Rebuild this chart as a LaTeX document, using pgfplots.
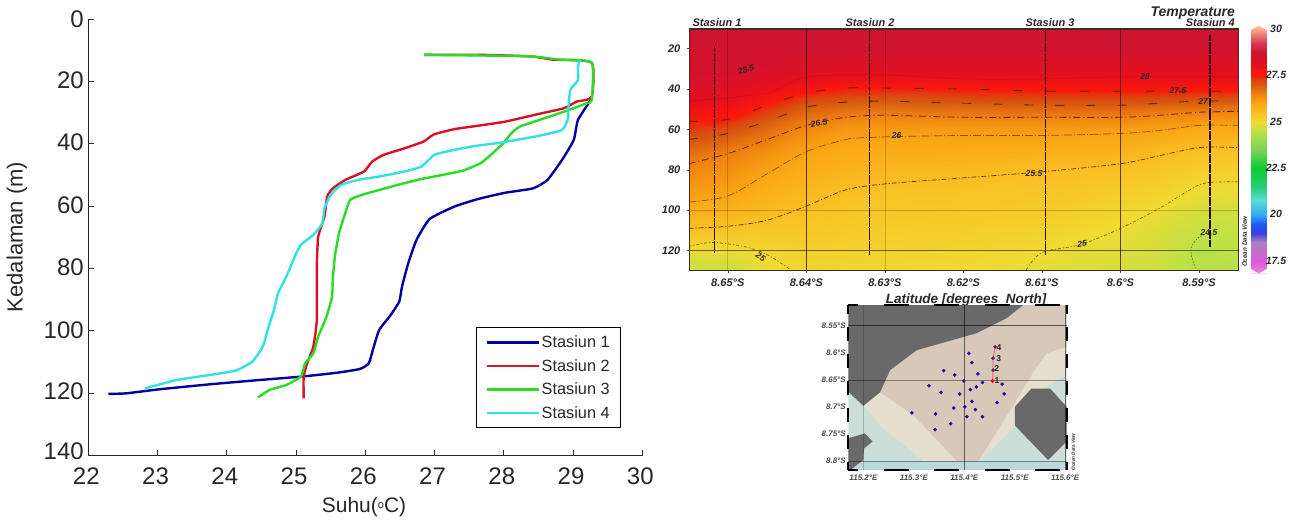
\documentclass[border=0pt]{standalone}
\usepackage{pgfplots}
\pgfplotsset{compat=1.18}
\usepackage{fontspec}
\setmainfont{Liberation Sans}
\definecolor{stOne}{RGB}{0,0,160}
\definecolor{stTwo}{RGB}{215,20,35}
\definecolor{stThree}{RGB}{40,220,40}
\definecolor{stFour}{RGB}{50,225,225}
\definecolor{txt}{RGB}{40,40,40}
\definecolor{cont}{RGB}{90,40,20}
\definecolor{land}{RGB}{105,105,105}
\definecolor{shal}{RGB}{216,200,186}
\definecolor{mid}{RGB}{230,222,206}
\definecolor{deep}{RGB}{203,222,215}
\definecolor{gridc}{RGB}{60,30,30}
\definecolor{framec}{RGB}{70,40,40}
\definecolor{tealb}{RGB}{185,217,218}
\definecolor{redl}{RGB}{235,90,110}
\definecolor{dotb}{RGB}{40,10,150}
\definecolor{dotm}{RGB}{110,20,110}
\definecolor{stn}{RGB}{40,10,15}
\pgfplotsset{
  colormap={odv}{
    rgb255(168pt)=(235,130,230);
    rgb255(175pt)=(220,90,215);
    rgb255(185pt)=(170,130,190);
    rgb255(190pt)=(60,60,230);
    rgb255(195pt)=(30,90,240);
    rgb255(200pt)=(50,170,240);
    rgb255(208pt)=(90,220,210);
    rgb255(215pt)=(40,205,120);
    rgb255(225pt)=(10,205,50);
    rgb255(235pt)=(120,210,90);
    rgb255(245pt)=(190,225,70);
    rgb255(250pt)=(240,218,50);
    rgb255(255pt)=(250,190,35);
    rgb255(260pt)=(250,165,20);
    rgb255(265pt)=(240,130,15);
    rgb255(270pt)=(215,90,15);
    rgb255(273pt)=(225,60,15);
    rgb255(275pt)=(250,25,10);
    rgb255(280pt)=(230,15,30);
    rgb255(287pt)=(205,20,50);
    rgb255(292pt)=(215,50,80);
    rgb255(297pt)=(240,130,120);
    rgb255(302pt)=(255,200,150)
  }
}
\begin{document}
\begin{tikzpicture}[x=1pt,y=1pt]
\useasboundingbox (0,0) rectangle (1296,523);

%% ---------- left profile chart ----------
\begin{axis}[
  at={(88.3pt,67.3pt)},anchor=south west,scale only axis,
  width=554pt,height=436.7pt,
  xmin=22,xmax=30,ymin=0,ymax=140,y dir=reverse,
  axis lines=left,axis line style={-,line width=1.1pt,color=black!85},
  tick style={line width=1pt,color=black!85},
  tick align=inside,major tick length=6pt,
  xtick={22,23,...,30},xticklabels={22,23,24,25,26,27,28,29,30},
  ytick={0,20,...,140},
  yticklabels={\raisebox{-1pt}{0},\raisebox{2.4pt}{20},\raisebox{2.8pt}{40},\raisebox{3pt}{60},\raisebox{3pt}{80},\raisebox{2pt}{100},\raisebox{3.6pt}{120},\raisebox{9pt}{140}},
  ticklabel style={font=\fontsize{24}{24}\selectfont,color=txt},
  xticklabel style={xshift=-2pt,yshift=-9pt},
  yticklabel style={xshift=-1pt},
  clip=false,
  legend style={at={(0.961,0.0627)},anchor=south east,draw=black,line width=1pt,
    font=\fontsize{16.3}{16.3}\selectfont,text=txt,row sep=6.3pt,inner xsep=8.5pt,inner ysep=6pt,
    cells={anchor=west}},
  legend cell align=left,
  legend image code/.code={\draw[#1] (0pt,0pt) -- (52pt,0pt);},
]
\addplot[stOne,line width=2.4pt,smooth,tension=.3] coordinates {
(29.27,26) (29.24,26.5) (29.07,32.4) (29.01,38.8) (28.84,45.2) (28.63,51.6) (28.42,54.3) (28.02,55.7) (27.63,57.7) (27.29,60.1) (26.93,64.1) (26.74,70.8) (26.62,78.3) (26.53,85.8) (26.49,90.6) (26.35,95.4) (26.2,99.7) (26.11,106) (26.05,110.4) (25.92,112.2) (25.59,113.4) (25.1,114.6) (24.49,115.7) (23.76,117.1) (23.03,118.7) (22.55,120) (22.29,120.2)};
\addlegendentry{Stasiun 1}
\addplot[stTwo,line width=2.4pt,smooth,tension=.3] coordinates {
(26.85,11.5) (27.7,11.5) (28.4,12) (28.7,13) (29.27,14) (29.27,25) (29.05,26.5) (28.87,28.6) (28.51,30.4) (28.02,32.9) (27.6,34.3) (27.29,35.3) (26.99,37) (26.84,39.3) (26.56,41.5) (26.26,43.6) (26.1,45.7) (25.98,48.9) (25.71,51.6) (25.53,54.3) (25.45,56.9) (25.41,63.4) (25.32,69.8) (25.3,79.4) (25.3,96.5) (25.25,105) (25.16,110.4) (25.11,114.6) (25.11,121.6)};
\addlegendentry{Stasiun 2}
\addplot[stThree,line width=2.4pt,smooth,tension=.3] coordinates {
(26.85,11.5) (27.7,11.7) (28.4,12) (28.8,13) (29.27,14) (29.27,26) (29.2,27) (28.87,29.7) (28.51,32.4) (28.23,34.5) (28.11,36.6) (27.99,39.9) (27.81,43.6) (27.66,46.3) (27.41,48.6) (27.11,50) (26.81,51.3) (26.5,53) (26.2,54.8) (25.95,56.4) (25.78,58) (25.71,62.3) (25.62,68.7) (25.56,76.2) (25.53,83.7) (25.52,89) (25.44,95.4) (25.32,101.8) (25.25,107.2) (25.13,110.4) (25.07,114.6) (24.86,117.3) (24.62,118.9) (24.45,121.3)};
\addlegendentry{Stasiun 3}
\addplot[stFour,line width=2.4pt,smooth,tension=.3] coordinates {
(29.1,13.1) (29.07,15.3) (29.07,19.6) (28.96,22.8) (28.93,29.2) (28.93,31.8) (28.84,35.6) (28.45,37.7) (27.96,39.6) (27.53,40.9) (27.17,42.5) (26.99,43.6) (26.81,47.3) (26.56,48.9) (26.2,50.5) (25.89,51.6) (25.65,53.2) (25.5,56.4) (25.41,60.7) (25.38,65.5) (25.25,69.2) (25.07,72.4) (24.98,76.2) (24.86,82.6) (24.74,87.9) (24.68,93.3) (24.59,99.7) (24.52,105) (24.37,109.8) (24.13,112.7) (23.76,114.1) (23.28,115.7) (22.82,118.4)};
\addlegendentry{Stasiun 4}
\end{axis}
\node[font=\fontsize{22}{22}\selectfont,text=txt,rotate=90] at (17,286) {Kedalaman (m)};
\node[font=\fontsize{21}{21}\selectfont,text=txt] at (364,16) {Suhu(\raisebox{4pt}{\fontsize{11}{11}\selectfont o}C)};

%% ---------- section ----------
\begin{axis}[
  at={(689.3pt,252.3pt)},anchor=south west,scale only axis,
  width=549pt,height=241.7pt,
  xmin=8.585,xmax=8.6549,ymin=10.25,ymax=130,x dir=reverse,y dir=reverse,
  colormap name=odv,point meta min=16.8,point meta max=30.2,
  axis line style={line width=1.2pt,color=framec},
  tick align=outside,major tick length=2.5pt,tick style={color=black!70,line width=.5pt},
  xtick={8.65,8.64,8.63,8.62,8.61,8.6,8.59},
  xticklabels={8.65°S,8.64°S,8.63°S,8.62°S,8.61°S,8.6°S,8.59°S},
  ytick={20,40,...,120},yticklabels={20,40,60,80,100,120},
  xtick pos=bottom,ytick pos=left,
  ticklabel style={font=\bfseries\itshape\fontsize{11}{11}\selectfont,color=txt},
  xticklabel style={yshift=-2pt},
  yticklabel style={xshift=-3pt},
  axis on top,
]
\addplot[surf,shader=interp,mesh/rows=16,mesh/cols=12,mesh/ordering=y varies,point meta=explicit]
 table[row sep=\\,x=a,y=d,meta=t] {
a d t\\
8.655 10 28.7\\ 8.655 20 28.6\\ 8.655 30 28.5\\ 8.655 36 28.4\\ 8.655 40 28.3\\ 8.655 45 28.1\\ 8.655 50 27.8\\ 8.655 55 27.55\\ 8.655 60 27.3\\ 8.655 70 26.8\\ 8.655 80 26.4\\ 8.655 90 26.15\\ 8.655 100 25.85\\ 8.655 110 25.45\\ 8.655 120 24.95\\ 8.655 130 24.55\\
8.65 10 28.7\\ 8.65 20 28.6\\ 8.65 30 28.5\\ 8.65 36 28.4\\ 8.65 40 28.2\\ 8.65 45 28\\ 8.65 50 27.75\\ 8.65 55 27.5\\ 8.65 60 27.15\\ 8.65 70 26.6\\ 8.65 80 26.3\\ 8.65 90 26.05\\ 8.65 100 25.75\\ 8.65 110 25.4\\ 8.65 120 24.95\\ 8.65 130 24.6\\
8.645 10 28.7\\ 8.645 20 28.6\\ 8.645 30 28.4\\ 8.645 36 28.1\\ 8.645 40 27.9\\ 8.645 45 27.65\\ 8.645 50 27.35\\ 8.645 55 27.05\\ 8.645 60 26.8\\ 8.645 70 26.35\\ 8.645 80 26.05\\ 8.645 90 25.8\\ 8.645 100 25.6\\ 8.645 110 25.35\\ 8.645 120 25.1\\ 8.645 130 24.95\\
8.64 10 28.7\\ 8.64 20 28.6\\ 8.64 30 28.3\\ 8.64 36 27.95\\ 8.64 40 27.65\\ 8.64 45 27.25\\ 8.64 50 26.9\\ 8.64 55 26.65\\ 8.64 60 26.4\\ 8.64 70 26.05\\ 8.64 80 25.85\\ 8.64 90 25.65\\ 8.64 100 25.47\\ 8.64 110 25.35\\ 8.64 120 25.2\\ 8.64 130 25.1\\
8.635 10 28.7\\ 8.635 20 28.6\\ 8.635 30 28.2\\ 8.635 36 27.8\\ 8.635 40 27.45\\ 8.635 45 27.1\\ 8.635 50 26.75\\ 8.635 55 26.45\\ 8.635 60 26.2\\ 8.635 70 25.9\\ 8.635 80 25.7\\ 8.635 90 25.5\\ 8.635 100 25.38\\ 8.635 110 25.28\\ 8.635 120 25.18\\ 8.635 130 25.08\\
8.63 10 28.7\\ 8.63 20 28.6\\ 8.63 30 28.2\\ 8.63 36 27.8\\ 8.63 40 27.45\\ 8.63 45 27.05\\ 8.63 50 26.7\\ 8.63 55 26.4\\ 8.63 60 26.15\\ 8.63 70 25.85\\ 8.63 80 25.65\\ 8.63 90 25.45\\ 8.63 100 25.35\\ 8.63 110 25.25\\ 8.63 120 25.15\\ 8.63 130 25.08\\
8.62 10 28.7\\ 8.62 20 28.6\\ 8.62 30 28.2\\ 8.62 36 27.8\\ 8.62 40 27.5\\ 8.62 45 27.15\\ 8.62 50 26.75\\ 8.62 55 26.45\\ 8.62 60 26.15\\ 8.62 70 25.85\\ 8.62 80 25.6\\ 8.62 90 25.42\\ 8.62 100 25.32\\ 8.62 110 25.22\\ 8.62 120 25.12\\ 8.62 130 25.03\\
8.61 10 28.7\\ 8.61 20 28.55\\ 8.61 30 28.15\\ 8.61 36 27.85\\ 8.61 40 27.55\\ 8.61 45 27.2\\ 8.61 50 26.8\\ 8.61 55 26.45\\ 8.61 60 26.15\\ 8.61 70 25.8\\ 8.61 80 25.52\\ 8.61 90 25.4\\ 8.61 100 25.28\\ 8.61 110 25.15\\ 8.61 120 25\\ 8.61 130 24.85\\
8.6 10 28.7\\ 8.6 20 28.55\\ 8.6 30 28.15\\ 8.6 36 27.85\\ 8.6 40 27.55\\ 8.6 45 27.2\\ 8.6 50 26.8\\ 8.6 55 26.42\\ 8.6 60 26.1\\ 8.6 70 25.75\\ 8.6 80 25.45\\ 8.6 90 25.25\\ 8.6 100 25.1\\ 8.6 110 24.97\\ 8.6 120 24.85\\ 8.6 130 24.75\\
8.595 10 28.7\\ 8.595 20 28.55\\ 8.595 30 28.15\\ 8.595 36 27.85\\ 8.595 40 27.55\\ 8.595 45 27.15\\ 8.595 50 26.7\\ 8.595 55 26.35\\ 8.595 60 26.05\\ 8.595 70 25.6\\ 8.595 80 25.35\\ 8.595 90 25.15\\ 8.595 100 24.97\\ 8.595 110 24.8\\ 8.595 120 24.7\\ 8.595 130 24.6\\
8.59 10 28.7\\ 8.59 20 28.55\\ 8.59 30 28.15\\ 8.59 36 27.85\\ 8.59 40 27.55\\ 8.59 45 27.1\\ 8.59 50 26.65\\ 8.59 55 26.25\\ 8.59 60 25.92\\ 8.59 70 25.47\\ 8.59 80 25.2\\ 8.59 90 24.97\\ 8.59 100 24.75\\ 8.59 110 24.55\\ 8.59 120 24.45\\ 8.59 130 24.4\\
8.585 10 28.7\\ 8.585 20 28.55\\ 8.585 30 28.15\\ 8.585 36 27.85\\ 8.585 40 27.55\\ 8.585 45 27.1\\ 8.585 50 26.62\\ 8.585 55 26.22\\ 8.585 60 25.9\\ 8.585 70 25.45\\ 8.585 80 25.18\\ 8.585 90 24.95\\ 8.585 100 24.72\\ 8.585 110 24.58\\ 8.585 120 24.5\\ 8.585 130 24.45\\
};
% grid
\addplot[black,opacity=.18,line width=.6pt] coordinates {(8.65,10.25) (8.65,130)};
\addplot[black,opacity=.18,line width=.6pt] coordinates {(8.63,10.25) (8.63,130)};
\addplot[black,opacity=.22,line width=.7pt] coordinates {(8.6549,100) (8.585,100)};
\addplot[gridc,opacity=.85,line width=.9pt] coordinates {(8.64,10.25) (8.64,130)};
\addplot[gridc,opacity=.85,line width=.9pt] coordinates {(8.6,10.25) (8.6,130)};
\addplot[black,opacity=.55,line width=1pt] coordinates {(8.6549,120) (8.585,120)};
% contours
\addplot[cont,opacity=.3,line width=.5pt,smooth] coordinates {(8.655,46) (8.645,42) (8.64,34) (8.63,33) (8.62,35) (8.61,35) (8.6,34) (8.59,34) (8.585,34)};
\addplot[cont,line width=.9pt,dash pattern=on 9pt off 24pt,smooth] coordinates {(8.655,56) (8.65,55) (8.645,48) (8.64,42) (8.635,39.5) (8.63,39.5) (8.62,40) (8.61,41) (8.6,41) (8.59,41) (8.585,41)};
\addplot[cont,line width=.9pt,dash pattern=on 9pt off 22pt,smooth] coordinates {(8.655,65) (8.65,62) (8.645,56) (8.64,49) (8.635,46.5) (8.63,46) (8.62,47) (8.61,48) (8.6,48) (8.595,47) (8.59,46) (8.585,46)};
\addplot[cont,line width=.8pt,dash pattern=on 7pt off 3pt on 1pt off 3pt,smooth] coordinates {(8.655,77) (8.65,72) (8.645,65) (8.64,58) (8.635,54) (8.63,53) (8.62,54) (8.61,54) (8.6,54) (8.595,53) (8.59,51.5) (8.585,51)};
\addplot[cont,opacity=.7,line width=.7pt,dash pattern=on 8pt off 2pt on 1pt off 2pt,smooth] coordinates {(8.655,96) (8.65,93) (8.645,82) (8.64,71) (8.635,65) (8.632,64) (8.628,63.5) (8.62,63) (8.61,63) (8.6,62) (8.595,60.5) (8.59,58) (8.585,58)};
\addplot[cont,line width=.7pt,dash pattern=on 5pt off 2pt on 1pt off 2pt,smooth] coordinates {(8.655,109) (8.65,108) (8.645,105) (8.64,98) (8.635,90) (8.63,87) (8.62,84) (8.61,81) (8.6,77) (8.595,73) (8.59,69) (8.585,69)};
\addplot[cont,opacity=.8,line width=.6pt,dash pattern=on 3pt off 2pt on 1pt off 2pt,smooth] coordinates {(8.655,118) (8.652,116) (8.648,118) (8.645,122) (8.642,129.5)};
\addplot[cont,opacity=.8,line width=.6pt,dash pattern=on 3pt off 2pt on 1pt off 2pt,smooth] coordinates {(8.612,129.5) (8.61,121) (8.605,117) (8.6,109) (8.595,99) (8.59,87.5) (8.587,86) (8.585,86)};
\addplot[cont,opacity=.8,line width=.6pt,dash pattern=on 1.5pt off 1.5pt,smooth] coordinates {(8.5886,111) (8.5901,113.7) (8.591,118.6) (8.5909,123.6) (8.5904,129.5)};
% stations
\addplot[stn,line width=1.15pt,dash pattern=on 3pt off .3pt] coordinates {(8.6517,18.7) (8.6517,121)};
\addplot[stn,line width=1.15pt,dash pattern=on 3pt off .3pt] coordinates {(8.632,10.5) (8.632,122)};
\addplot[stn,line width=1.15pt,dash pattern=on 3pt off .3pt] coordinates {(8.6096,10.5) (8.6096,122)};
\addplot[stn,line width=1.15pt,dash pattern=on 3pt off .3pt] coordinates {(8.5886,13.2) (8.5886,118)};
\end{axis}

%% section texts (y from the bottom of the picture)
\tikzset{lab/.style={font=\bfseries\itshape\fontsize{#1}{#1}\selectfont,text=txt,inner sep=0pt}}
\node[lab=11] at (717,500) {Stasiun 1};
\node[lab=11] at (870,500) {Stasiun 2};
\node[lab=11] at (1050,500) {Stasiun 3};
\node[lab=11,anchor=east] at (1235,500) {Stasiun 4};
\node[lab=14,anchor=east] at (1235,510) {Temperature};
\node[lab=13.5] at (966,223) {Latitude [degrees\_North]};
\node[lab=8.5,rotate=15] at (746,453.7) {28.5};
\node[lab=8.5] at (1145,446.3) {28};
\node[lab=8.5] at (1178,432.3) {27.5};
\node[lab=8.5] at (1203,421.3) {27};
\node[lab=8.5,rotate=10] at (819,400) {26.5};
\node[lab=8.5] at (896.7,387) {26};
\node[lab=8.5] at (1034,349.3) {25.5};
\node[lab=8.5,rotate=5] at (1082,279.3) {25};
\node[lab=8.5] at (1209,290) {24.5};
\node[lab=8.5,rotate=-35] at (760.7,266.3) {25};

%% ---------- colour bar ----------
\begin{axis}[
  at={(1250.7pt,250pt)},anchor=south west,scale only axis,
  width=16pt,height=247pt,hide axis,
  xmin=0,xmax=1,ymin=16.85,ymax=30.15,
  colormap name=odv,point meta min=16.8,point meta max=30.2,
]
\addplot[surf,shader=interp,mesh/rows=24,mesh/cols=2,point meta=explicit]
 table[row sep=\\,x=a,y=v,meta=v] {
a v\\
0 16.85\\ 1 16.85\\ 0 17.5\\ 1 17.5\\ 0 18.5\\ 1 18.5\\ 0 19\\ 1 19\\ 0 19.5\\ 1 19.5\\ 0 20\\ 1 20\\ 0 20.8\\ 1 20.8\\ 0 21.5\\ 1 21.5\\ 0 22.5\\ 1 22.5\\ 0 23.5\\ 1 23.5\\ 0 24.5\\ 1 24.5\\ 0 25\\ 1 25\\ 0 25.5\\ 1 25.5\\ 0 26\\ 1 26\\ 0 26.5\\ 1 26.5\\ 0 27\\ 1 27\\ 0 27.3\\ 1 27.3\\ 0 27.5\\ 1 27.5\\ 0 28\\ 1 28\\ 0 28.7\\ 1 28.7\\ 0 29.2\\ 1 29.2\\ 0 29.7\\ 1 29.7\\ 0 30\\ 1 30\\ 0 30.15\\ 1 30.15\\
};
\addplot[black!60!olive,line width=.8pt,clip=false] coordinates {(-0.12,25) (-0.02,25)};
\addplot[black!60!olive,line width=.8pt,clip=false] coordinates {(1.02,25) (1.12,25)};
\end{axis}
\fill[white] (1250,497.5) -- (1250.7,493) -- (1258.7,497.5) -- cycle;
\fill[white] (1267.5,497.5) -- (1266.7,493) -- (1258.7,497.5) -- cycle;
\fill[white] (1250,249.5) -- (1250.7,254) -- (1258.7,249.5) -- cycle;
\fill[white] (1267.5,249.5) -- (1266.7,254) -- (1258.7,249.5) -- cycle;
\foreach \t/\y in {30/494.3,27.5/448,25/401.3,22.5/355,20/309,17.5/262} {
  \node[lab=10.5] at (1276,\y) {\t};
}
\node[lab=6.3,rotate=90] at (1244.7,281.3) {Ocean Data View};

%% ---------- map ----------
\begin{axis}[
  at={(848.3pt,53pt)},anchor=south west,scale only axis,
  width=218.4pt,height=165pt,
  xmin=115.17,xmax=115.603,ymin=8.5117,ymax=8.8166,y dir=reverse,
  axis line style={draw=none},
  tick style={draw=none},
  xtick={115.2,115.3,115.4,115.5,115.6},
  xticklabels={115.2°E,115.3°E,115.4°E,115.5°E,115.6°E},
  ytick={8.55,8.6,8.65,8.7,8.75,8.8},
  yticklabels={8.55°S,8.6°S,8.65°S,8.7°S,8.75°S,8.8°S},
  ticklabel style={font=\bfseries\itshape\fontsize{8}{8}\selectfont,color=black!70},
  xticklabel style={yshift=-1pt},
  yticklabel style={xshift=1pt},
  clip=true,
]
\addplot[fill=deep,draw=none] coordinates {(115.17,8.5117) (115.603,8.5117) (115.603,8.8166) (115.17,8.8166)} --cycle;
\addplot[fill=tealb,draw=none] coordinates {(115.2,8.8) (115.603,8.8) (115.603,8.8166) (115.17,8.8166)} --cycle;
\addplot[fill=mid,draw=none] coordinates {(115.2,8.698) (115.233,8.673) (115.299,8.715) (115.385,8.8) (115.319,8.8) (115.24,8.74)} --cycle;
\addplot[fill=mid,draw=none] coordinates {(115.563,8.601) (115.603,8.589) (115.603,8.641) (115.537,8.678) (115.497,8.74) (115.431,8.8) (115.428,8.8) (115.497,8.697) (115.537,8.635)} --cycle;
\addplot[fill=shal,draw=none] coordinates {(115.517,8.5117) (115.603,8.5117) (115.603,8.589) (115.563,8.601) (115.537,8.635) (115.497,8.697) (115.428,8.8) (115.385,8.8) (115.299,8.715) (115.233,8.673) (115.253,8.632) (115.306,8.595) (115.424,8.564) (115.484,8.536)} --cycle;
\addplot[fill=land,draw=none] coordinates {(115.17,8.5117) (115.517,8.5117) (115.484,8.536) (115.424,8.564) (115.306,8.595) (115.253,8.632) (115.233,8.673) (115.2,8.698) (115.17,8.672)} --cycle;
\addplot[fill=land,draw=none] coordinates {(115.5,8.7) (115.533,8.666) (115.57,8.666) (115.603,8.7) (115.603,8.764) (115.566,8.798) (115.5,8.734)} --cycle;
\addplot[fill=land,draw=none] coordinates {(115.17,8.758) (115.203,8.749) (115.218,8.764) (115.201,8.777) (115.2,8.798) (115.174,8.8166) (115.17,8.8166)} --cycle;
% grid
\addplot[black,opacity=.2,line width=.5pt] coordinates {(115.2,8.5117) (115.2,8.8166)};
\addplot[black,opacity=.55,line width=.7pt] coordinates {(115.4,8.5117) (115.4,8.8166)};
\addplot[black,opacity=.55,line width=.7pt] coordinates {(115.6,8.5117) (115.6,8.8166)};
\addplot[black,opacity=.6,line width=.7pt] coordinates {(115.17,8.55) (115.603,8.55)};
\addplot[black,opacity=.4,line width=.6pt] coordinates {(115.17,8.65) (115.603,8.65)};
\addplot[black,opacity=.4,line width=.6pt] coordinates {(115.17,8.8) (115.603,8.8)};
% stations
\addplot[only marks,mark=*,mark size=1.6pt,color=dotb] coordinates {
(115.409,8.601) (115.415,8.618) (115.359,8.633) (115.381,8.641) (115.427,8.639) (115.399,8.652) (115.436,8.655) (115.33,8.661) (115.424,8.663) (115.412,8.668) (115.475,8.658) (115.354,8.673) (115.391,8.676) (115.479,8.676) (115.465,8.692) (115.415,8.69) (115.401,8.7) (115.379,8.702) (115.422,8.705) (115.296,8.711) (115.343,8.713) (115.405,8.718) (115.436,8.718) (115.373,8.731) (115.342,8.742)};
\addplot[redl,line width=.8pt] coordinates {(115.456,8.652) (115.457,8.632) (115.457,8.61) (115.461,8.589)};
\addplot[only marks,mark=*,mark size=1.6pt,color=dotm] coordinates {(115.457,8.632) (115.457,8.61) (115.461,8.589)};
\addplot[only marks,mark=*,mark size=1.8pt,color=red] coordinates {(115.456,8.652)};
\end{axis}
% map frame: black-and-white dashes
\draw[black,line width=2pt,dash pattern=on 25pt off 25.5pt,dash phase=15pt] (848.3,218) -- (1066.7,218);
\draw[black,line width=2pt,dash pattern=on 25pt off 25.5pt,dash phase=15pt] (848.3,53) -- (1066.7,53);
\draw[black,line width=2pt,dash pattern=on 14pt off 13pt,dash phase=6pt] (848.3,53) -- (848.3,218);
\draw[black,line width=2pt,dash pattern=on 14pt off 13pt,dash phase=6pt] (1066.7,53) -- (1066.7,218);
\node[font=\bfseries\fontsize{8.5}{8.5}\selectfont,text=txt] at (999,175.7) {4};
\node[font=\bfseries\fontsize{8.5}{8.5}\selectfont,text=txt] at (998.7,164.7) {3};
\node[font=\bfseries\fontsize{8.5}{8.5}\selectfont,text=txt] at (996.7,154) {2};
\node[font=\bfseries\fontsize{8.5}{8.5}\selectfont,text=txt] at (997,142.7) {1};
\node[lab=4.6,rotate=90] at (1073.3,71) {Ocean Data View};
\end{tikzpicture}
\end{document}
